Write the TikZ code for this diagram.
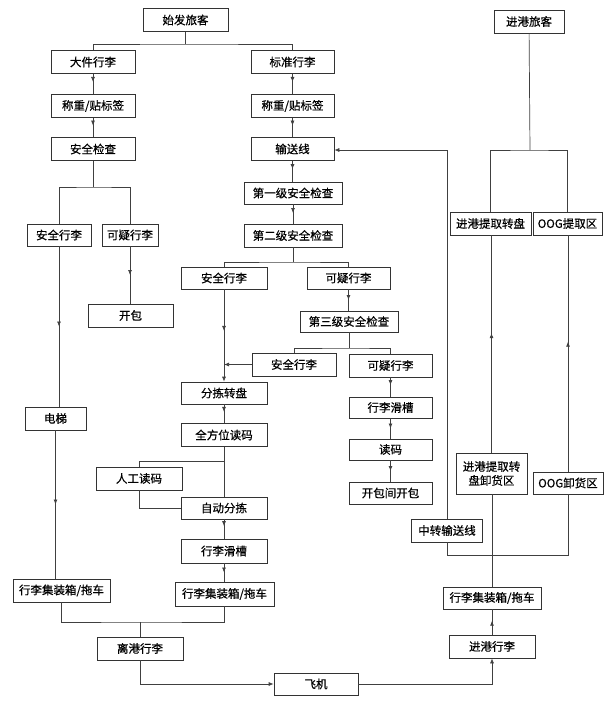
\documentclass[tikz,border=0pt]{standalone}
\usepackage{fontspec}
\newfontfamily\cjk[FakeBold=0.6]{Noto Sans CJK SC}
\usetikzlibrary{arrows.meta,decorations.markings}

\tikzset{
	box/.style={draw=black!80,line width=0.7pt,fill=white,inner sep=0pt,align=center,
		font=\cjk\fontsize{11.5}{14}\selectfont,minimum height=23},
	link/.style={draw=black!75,line width=0.7pt},
	tip/.style={-{Latex[length=5pt,width=4pt]}},
	flow/.style={link,postaction={decorate},decoration={markings,
		mark=at position #1 with {\arrow{Latex[length=5pt,width=4pt]}}}},
	flow/.default=0.5
}

\begin{document}
\begin{tikzpicture}[x=1pt,y=-1pt]
	\useasboundingbox (0,0) rectangle (611,702);
	
	%BOXES -- DEPARTURE, LEFT
	\node[box,minimum width=85] (start) at (185.5,20) {始发旅客};
	\node[box,minimum width=84] (big) at (93,62) {大件行李};
	\node[box,minimum width=84] (weighL) at (93,106) {称重/贴标签};
	\node[box,minimum width=84] (checkL) at (93,149) {安全检查};
	\node[box,minimum width=64,minimum height=22] (safeL) at (59,235) {安全行李};
	\node[box,minimum width=56,minimum height=22] (suspL) at (130,235) {可疑行李};
	\node[box,minimum width=85] (open) at (130.5,315.5) {开包};
	\node[box,minimum width=61] (elev) at (55.5,418.5) {电梯};
	\node[box,minimum width=97] (cartL) at (61.5,590.5) {行李集装箱/拖车};
	
	%BOXES -- DEPARTURE, MIDDLE
	\node[box,minimum width=83] (std) at (292.5,62) {标准行李};
	\node[box,minimum width=83] (weighR) at (292.5,106) {称重/贴标签};
	\node[box,minimum width=83] (conv) at (292.5,149) {输送线};
	\node[box,minimum width=98,minimum height=22] (lvA) at (293,193) {第一级安全检查};
	\node[box,minimum width=98] (lvB) at (293,235.5) {第二级安全检查};
	\node[box,minimum width=86,minimum height=22] (safeM) at (224,278) {安全行李};
	\node[box,minimum width=83,minimum height=22] (suspM) at (348.5,278) {可疑行李};
	\node[box,minimum width=98,minimum height=21] (lvC) at (349,321.5) {第三级安全检查};
	\node[box,minimum width=84] (safeN) at (294,364.5) {安全行李};
	\node[box,minimum width=83] (suspN) at (390.5,365.5) {可疑行李};
	\node[box,minimum width=83,minimum height=21] (chuteR) at (390.5,407.5) {行李滑槽};
	\node[box,minimum width=83,minimum height=21] (readR) at (390.5,449.5) {读码};
	\node[box,minimum width=83,minimum height=22] (openR) at (390.5,493) {开包间开包};
	\node[box,minimum width=86,minimum height=22] (sort) at (224,393) {分拣转盘};
	\node[box,minimum width=86] (scan) at (224,435) {全方位读码};
	\node[box,minimum width=86] (manual) at (139,478.5) {人工读码};
	\node[box,minimum width=86,minimum height=22] (auto) at (224,508) {自动分拣};
	\node[box,minimum width=86,minimum height=24] (chuteM) at (224,551) {行李滑槽};
	\node[box,minimum width=99,minimum height=24] (cartM) at (224.5,594) {行李集装箱/拖车};
	\node[box,minimum width=86] (depart) at (140,648.5) {离港行李};
	\node[box,minimum width=84,minimum height=22] (plane) at (316,684) {飞机};
	
	%BOXES -- ARRIVAL
	\node[box,minimum width=70] (arr) at (529,21.5) {进港旅客};
	\node[box,minimum width=81] (pickT) at (490.5,223.5) {进港提取转盘};
	\node[box,minimum width=69] (pickO) at (567.5,223.5) {OOG提取区};
	\node[box,minimum width=71,minimum height=41] (unloadT) at (491.5,473.5) {进港提取转\\盘卸货区};
	\node[box,minimum width=70,minimum height=22] (unloadO) at (568,483) {OOG卸货区};
	\node[box,minimum width=71] (transfer) at (447,530.5) {中转输送线};
	\node[box,minimum width=98,minimum height=22] (cartR) at (492,598) {行李集装箱/拖车};
	\node[box,minimum width=86] (arrBag) at (492,646.5) {进港行李};
	
	%SPLITS
	\coordinate (sp1) at (185.5,44);	\coordinate (sp2) at (93,187);
	\coordinate (sp3) at (293,262);		\coordinate (sp4) at (349,348);
	\coordinate (sp5) at (530,150);		\coordinate (sp6) at (140,622);
	\coordinate (sp7) at (224,461);
	\draw[link] (start) -- (sp1);	\draw[link] (big.north) |- (sp1) -| (std.north);
	\draw[link] (checkL) -- (sp2);	\draw[link] (safeL.north) |- (sp2) -| (suspL.north);
	\draw[link] (lvB) -- (sp3);		\draw[link] (safeM.north) |- (sp3) -| (suspM.north);
	\draw[link] (lvC) -- (sp4);		\draw[link] (safeN.north) |- (sp4) -| (suspN.north);
	\draw[link] (arr) -- (sp5);		\draw[link] (pickT.north) |- (sp5) -| (pickO.north);
	\draw[link] (cartL.south) |- (sp6) -| (cartM.south);
	\draw[link] (sp6) -- (depart.north);
	
	%DOWN ARROWS
	\foreach \a/\b/\p in {big/weighL/0.4,std/weighR/0.4,weighL/checkL/0.4,weighR/conv/0.4,
		conv/lvA/0.4,lvA/lvB/0.45,safeL/elev/0.5,elev/cartL/0.5,suspL/open/0.5,suspM/lvC/0.5,
		suspN/chuteR/0.4,chuteR/readR/0.5,readR/openR/0.5,sort/scan/0.4,auto/chuteM/0.35,
		chuteM/cartM/0.5}
	\draw[flow=\p] (\a.south) -- (\a.south |- \b.north);
	\draw[flow=0.45,tip] (safeM.south) -- (sort.north);
	\draw[link,tip] (safeN.west) -- (safeM.south |- safeN.west);
	
	%READING
	\draw[link] (scan.south) -- (auto.north);
	\draw[link] (sp7) -| (manual.north);
	\draw[link] (manual.south) |- (auto.west);
	
	%PLANE
	\draw[link,tip] (depart.south) |- (plane.west);
	\draw[link,tip] (plane.east) -| (arrBag.south);
	
	%UP ARROWS
	\foreach \a/\b in {arrBag/cartR,unloadT/pickT,unloadO/pickO}
	\draw[flow=0.55] (\a.north) -- (\a.north |- \b.south);
	\draw[link] (cartR.north) -- (cartR.north |- unloadT.south);
	
	%TRANSFER
	\coordinate (jL) at (447,555);	\coordinate (jT) at (447,150);
	\draw[link] (unloadO.south) |- (jL) -- (transfer.south);
	\draw[link,tip] (transfer.north) -- (jT) -- (conv.east |- jT);
	
\end{tikzpicture}
\end{document}
